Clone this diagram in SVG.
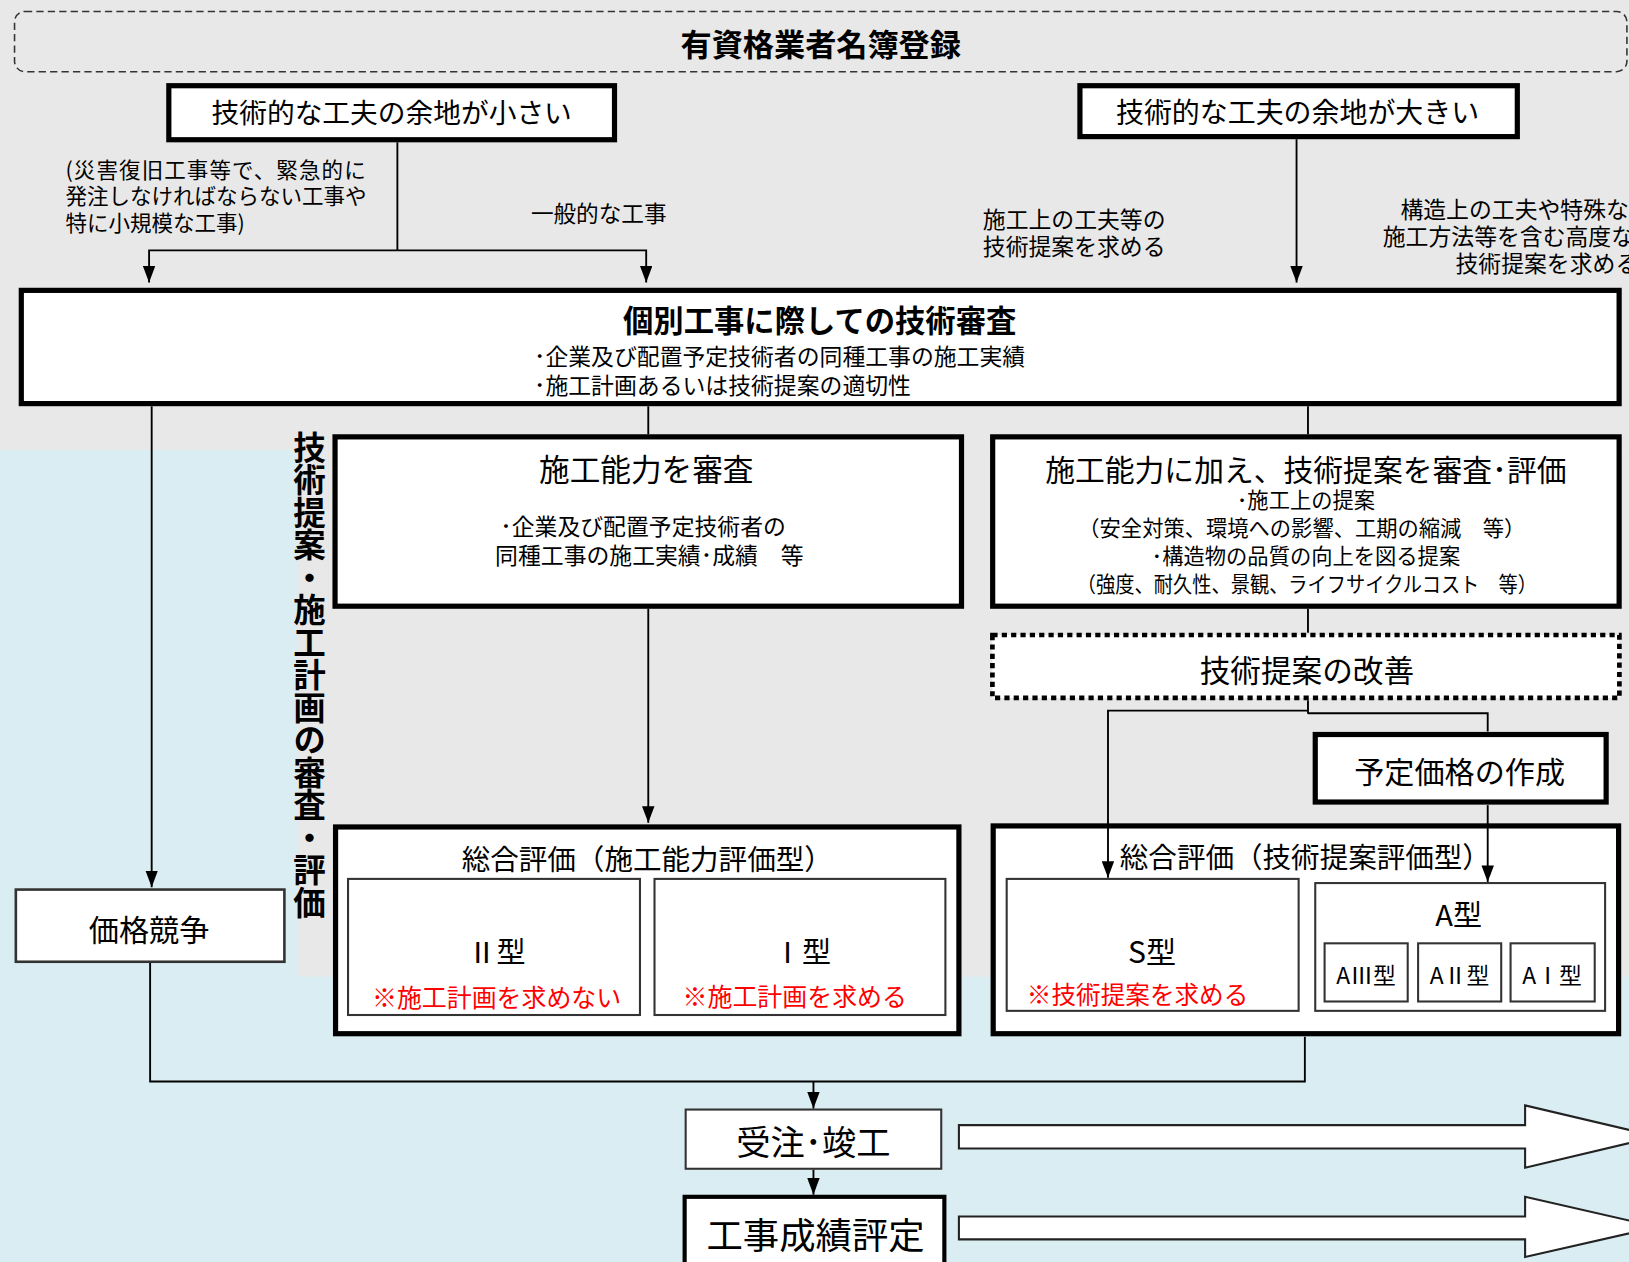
<svg xmlns="http://www.w3.org/2000/svg" width="1629" height="1262" viewBox="0 0 1629 1262">
<defs>
<marker id="ah" viewBox="0 0 16 12" markerUnits="userSpaceOnUse" markerWidth="16" markerHeight="12" refX="16" refY="6" orient="auto"><path d="M0,0 L16,6 L0,12 z" fill="#000"/></marker>
</defs>
<style>
text{font-family:"Noto Sans CJK JP","Noto Sans",sans-serif;fill:#000;dominant-baseline:central}
.c{text-anchor:middle}
.b{font-weight:bold}
.red{fill:#f00}
.vert{writing-mode:vertical-rl;text-orientation:upright}
.thick{fill:#fff;stroke:#000;stroke-width:5}
.thin{fill:#fff;stroke:#333;stroke-width:2}
.ln{fill:none;stroke:#000;stroke-width:1.8}
.arr{marker-end:url(#ah)}
.blk{fill:#fff;stroke:#222;stroke-width:2}
</style>
<g transform="scale(1.0389)">
<g id="background">
<rect x="0" y="0" width="1575" height="433" fill="#e8e8e8"/>
<rect x="0" y="433" width="1575" height="790" fill="#daedf2"/>
<rect x="287" y="433" width="1288" height="507" fill="#e8e8e8"/>
</g>

<g id="registration">
<rect x="14" y="11" width="1552" height="58" rx="10" fill="none" stroke="#333" stroke-width="1.5" stroke-dasharray="7 4"/>
<text class="c b" x="790" y="41" font-size="30">有資格業者名簿登録</text>
</g>

<g id="small-room">
<rect class="thick" x="162.5" y="82.5" width="429" height="52"/>
<text class="c" x="377" y="107" font-size="26.7">技術的な工夫の余地が小さい</text>
</g>

<g id="large-room">
<rect class="thick" x="1039.5" y="82.5" width="421" height="49"/>
<text class="c" x="1249" y="107" font-size="26.9">技術的な工夫の余地が大きい</text>
</g>

<g id="labels">
<text font-size="20.7"><tspan x="63" y="162" textLength="289">(災害復旧工事等で、緊急的に</tspan><tspan x="63" y="187">発注しなければならない工事や</tspan><tspan x="63" y="213">特に小規模な工事)</tspan></text>
<text x="511" y="205" font-size="21.8">一般的な工事</text>
<text font-size="22"><tspan x="946" y="210">施工上の工夫等の</tspan><tspan x="946" y="236">技術提案を求める</tspan></text>
<text font-size="22"><tspan x="1348" y="200">構造上の工夫や特殊な</tspan><tspan x="1331" y="226">施工方法等を含む高度な</tspan><tspan x="1401" y="252">技術提案を求める</tspan></text>
</g>

<g id="tech-review">
<rect class="thick" x="20.5" y="279.5" width="1538" height="109"/>
<text font-size="22"><tspan class="b" x="789" y="307" font-size="29.2" text-anchor="middle">個別工事に際しての技術審査</tspan><tspan x="514" y="342" text-anchor="start">･企業及び配置予定技術者の同種工事の施工実績</tspan><tspan x="514" y="370" text-anchor="start">･施工計画あるいは技術提案の適切性</tspan></text>
</g>

<g id="vertical-label">
<text class="b vert" x="298" y="415" font-size="31.3">技術提案・施工計画の審査・評価</text>
</g>

<g id="capability-review">
<rect class="thick" x="322.5" y="420.5" width="603" height="163"/>
<text class="c" x="622" y="450" font-size="29.5">施工能力を審査</text>
<text class="c" font-size="22"><tspan x="619" y="505">･企業及び配置予定技術者の</tspan><tspan x="625" y="533">同種工事の施工実績･成績　等</tspan></text>
</g>

<g id="proposal-review">
<rect class="thick" x="955.5" y="420.5" width="603" height="163"/>
<text class="c" font-size="20.5"><tspan x="1257" y="450" font-size="28.7">施工能力に加え、技術提案を審査･評価</tspan><tspan x="1257" y="479">･施工上の提案</tspan><tspan x="1253" y="506">（安全対策、環境への影響、工期の縮減　等）</tspan><tspan x="1257" y="533">･構造物の品質の向上を図る提案</tspan><tspan x="1258" y="560" textLength="443" lengthAdjust="spacingAndGlyphs">（強度、耐久性、景観、ライフサイクルコスト　等）</tspan></text>
</g>

<g id="proposal-improve">
<rect x="955.25" y="611.25" width="603.5" height="60.5" fill="#fff" stroke="#000" stroke-width="4.5" stroke-dasharray="5 4"/>
<text class="c" x="1258" y="643" font-size="29.5">技術提案の改善</text>
</g>

<g id="planned-price">
<rect class="thick" x="1266" y="707" width="280" height="65" stroke-width="6"/>
<text class="c" x="1405" y="741" font-size="29">予定価格の作成</text>
</g>

<g id="price-competition">
<rect x="15.25" y="856.25" width="258.5" height="69.5" fill="#fff" stroke="#333" stroke-width="2.5"/>
<text class="c" x="143.5" y="893" font-size="29">価格競争</text>
</g>

<g id="eval-capability">
<rect class="thick" x="323" y="796" width="600" height="199" stroke-width="6"/>
<text class="c" x="623" y="825" font-size="27.5">総合評価（施工能力評価型）</text>
<rect class="thin" x="335" y="846" width="281" height="131"/>
<text class="c" x="478" y="914" font-size="28">Ⅱ型</text>
<text class="c red" x="478" y="959" font-size="24">※施工計画を求めない</text>
<rect class="thin" x="630" y="846" width="280" height="131"/>
<text class="c" x="772" y="914" font-size="28">Ⅰ型</text>
<text class="c red" x="765" y="958" font-size="24">※施工計画を求める</text>
</g>

<g id="eval-proposal">
<rect class="thick" x="956" y="795" width="602" height="200" stroke-width="6"/>
<text class="c" x="1256.5" y="823" font-size="27.5">総合評価（技術提案評価型）</text>
<rect class="thin" x="969" y="846" width="281" height="127"/>
<text class="c" x="1109" y="914" font-size="29">S型</text>
<text class="c red" x="1095" y="956" font-size="23.7">※技術提案を求める</text>
<rect class="thin" x="1266" y="850" width="279" height="123"/>
<text class="c" x="1404" y="879" font-size="28">A型</text>
<rect class="thin" x="1275" y="908" width="80" height="56" stroke-width="2.5"/>
<text class="c" x="1315" y="938" font-size="22">AⅢ型</text>
<rect class="thin" x="1365" y="908" width="80" height="56" stroke-width="2.5"/>
<text class="c" x="1405" y="938" font-size="22">AⅡ型</text>
<rect class="thin" x="1454" y="908" width="81" height="56" stroke-width="2.5"/>
<text class="c" x="1494" y="938" font-size="22">AⅠ型</text>
</g>

<g id="order-complete">
<rect x="660" y="1068" width="246" height="57" fill="#fff" stroke="#333" stroke-width="2"/>
<text class="c" x="783" y="1097" font-size="33">受注･竣工</text>
</g>

<g id="performance-rating">
<rect x="659" y="1152" width="250" height="80" fill="#fff" stroke="#000" stroke-width="4"/>
<text class="c" x="785" y="1187" font-size="35">工事成績評定</text>
</g>

<g id="connectors">
<path class="ln" d="M382.5 137 V241"/>
<path class="ln arr" d="M382.5 241 H143.5 V272"/>
<path class="ln arr" d="M382.5 241 H622 V272"/>
<path class="ln arr" d="M1248 134 V272"/>
<path class="ln arr" d="M146 391 V854"/>
<path class="ln" d="M624 391 V418"/>
<path class="ln" d="M1259 391 V418"/>
<path class="ln arr" d="M624 586 V792"/>
<path class="ln" d="M1259 586 V609"/>
<path class="ln" d="M1259 674 V687"/>
<path class="ln arr" d="M1259 684 H1066.5 V845"/>
<path class="ln" d="M1259 686.5 H1432 V704"/>
<path class="ln arr" d="M1432 775 V849"/>
<path class="ln" d="M144.5 927 V1041 H1256 V998"/>
<path class="ln arr" d="M783 1041 V1067"/>
<path class="ln arr" d="M783 1126 V1150"/>
<polygon class="blk" points="923,1083 1468,1083 1468,1064 1595,1094 1468,1124 1468,1105.5 923,1105.5"/>
<polygon class="blk" points="923,1171 1468,1171 1468,1152 1595,1181 1468,1210 1468,1193 923,1193"/>
</g>
</g>
</svg>
